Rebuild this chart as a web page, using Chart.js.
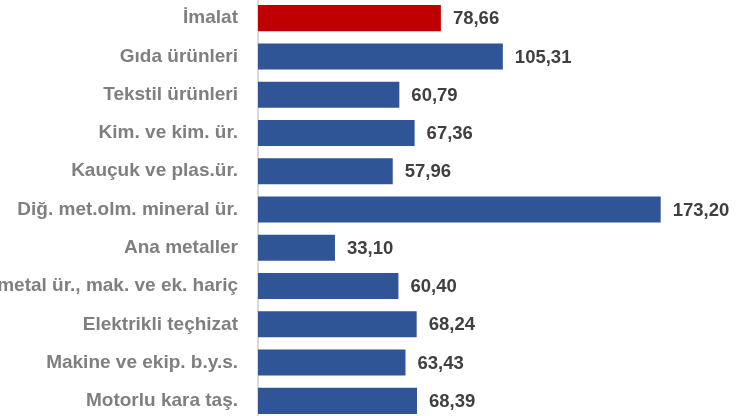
<!DOCTYPE html>
<html>
<head>
<meta charset="utf-8">
<script src="https://cdn.jsdelivr.net/npm/chart.js@4"></script>
<style>
  html, body { margin: 0; padding: 0; background: #ffffff; overflow: hidden; }
  #wrap { position: absolute; left: 0; top: -1px; width: 736px; height: 421px; }
</style>
</head>
<body>
<div id="wrap"><canvas id="chart"></canvas></div>
<script>
// Sector names and index values
const categories = [
  'İmalat',
  'Gıda ürünleri',
  'Tekstil ürünleri',
  'Kim. ve kim. ür.',
  'Kauçuk ve plas.ür.',
  'Diğ. met.olm. mineral ür.',
  'Ana metaller',
  'Fab. metal ür., mak. ve ek. hariç',
  'Elektrikli teçhizat',
  'Makine ve ekip. b.y.s.',
  'Motorlu kara taş.'
];
const values = [78.66, 105.31, 60.79, 67.36, 57.96, 173.20, 33.10, 60.40, 68.24, 63.43, 68.39];
const barColors = ['#c00000', '#2f5597', '#2f5597', '#2f5597', '#2f5597', '#2f5597',
  '#2f5597', '#2f5597', '#2f5597', '#2f5597', '#2f5597'];

const FONT = '"Liberation Sans", Arial, sans-serif';

// Value labels at the end of each bar (datalabels plugin not available offline)
const valueLabels = {
  id: 'valueLabels',
  afterDatasetsDraw(chart) {
    const ctx = chart.ctx;
    const meta = chart.getDatasetMeta(0);
    ctx.save();
    ctx.font = 'bold 18.5px ' + FONT;
    ctx.fillStyle = '#404040';
    ctx.textAlign = 'left';
    ctx.textBaseline = 'middle';
    meta.data.forEach((bar, i) => {
      const txt = values[i].toFixed(2).replace('.', ',');
      ctx.fillText(txt, bar.x + 12, bar.y + 1);
    });
    ctx.restore();
  }
};

new Chart(document.getElementById('chart'), {
  type: 'bar',
  data: {
    labels: categories,
    datasets: [{
      data: values,
      backgroundColor: barColors,
      borderWidth: 0,
      categoryPercentage: 1.0,
      barPercentage: 0.68
    }]
  },
  plugins: [valueLabels],
  options: {
    indexAxis: 'y',
    responsive: true,
    maintainAspectRatio: false,
    animation: false,
    layout: { padding: { left: 0, right: 13, top: 0, bottom: 0 } },
    plugins: {
      legend: { display: false },
      tooltip: { enabled: false }
    },
    scales: {
      x: {
        min: 0,
        max: 200,
        display: false
      },
      y: {
        afterFit(scale) {
          scale.width = 258;
          scale.paddingTop = 0;
          scale.paddingBottom = 0;
        },
        grid: { display: false, drawTicks: true, tickLength: 18 },
        border: { display: true, color: '#d9d9d9', width: 2 },
        ticks: {
          color: '#7f7f7f',
          padding: 2,
          font: { family: FONT, size: 19, weight: 'bold' }
        }
      }
    }
  }
});
</script>
</body>
</html>
